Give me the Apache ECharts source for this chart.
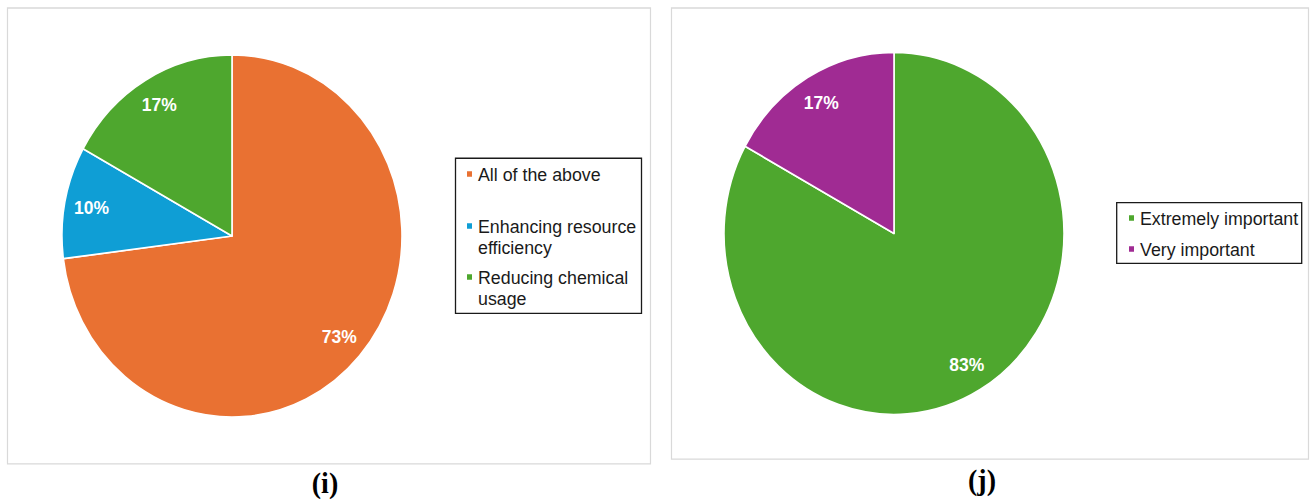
<!DOCTYPE html>
<html>
<head>
<meta charset="utf-8">
<script src="https://cdn.jsdelivr.net/npm/echarts@6/dist/echarts.min.js"></script>
<style>
  html, body { margin: 0; padding: 0; background: #fff; overflow: hidden; }
  #wrap { width: 1310px; height: 500px; overflow: hidden; }
  #chart { width: 1310px; height: 469.5px; transform: scaleY(1.065); transform-origin: 0 0; }
</style>
</head>
<body>
<div id="wrap"><div id="chart"></div></div>
<script>
// ---- data ----
const leftCategories = ['All of the above', 'Enhancing resource efficiency', 'Reducing chemical usage'];
const leftValues = [73, 10, 17];
const leftColors = ['#E97132', '#0F9ED5', '#4EA72E'];
const leftLegendLabels = ['All of the above', '\nEnhancing resource\nefficiency', '\nReducing chemical\nusage'];

const rightCategories = ['Extremely important', 'Very important'];
const rightValues = [83, 17];
const rightColors = ['#4EA72E', '#A02B93'];
const rightLegendLabels = ['Extremely important', 'Very important'];

const captions = ['(i)', '(j)'];

// ---- build ----
const chart = echarts.init(document.getElementById('chart'), null, { renderer: 'svg' });
const FONT = '"Liberation Sans", Arial, sans-serif';

function pieSeries(cats, vals, colors, center) {
  const data = cats.map((c, i) => ({ name: c, value: vals[i], itemStyle: { color: colors[i] } }));
  return [
    {
      type: 'pie', center: center, radius: 170, startAngle: 90, clockwise: true,
      data: data, label: { show: false }, labelLine: { show: false },
      itemStyle: { borderColor: '#ffffff', borderWidth: 1.6 },
      emphasis: { disabled: true }, animation: false
    },
    {
      type: 'pie', center: center, radius: [110, 170], startAngle: 90, clockwise: true,
      silent: true,
      data: cats.map((c, i) => ({ name: c, value: vals[i] })),
      itemStyle: { color: 'rgba(0,0,0,0)', borderWidth: 0 },
      label: {
        show: true, position: 'inside', formatter: '{c}%',
        color: '#ffffff', fontWeight: 'bold', fontSize: 17.5, fontFamily: FONT,
        textBorderWidth: 0
      },
      labelLine: { show: false },
      emphasis: { disabled: true }, animation: false
    }
  ];
}

function legendItem(name, label, left, top) {
  return {
    data: [name], left: left, top: top, padding: 0, orient: 'vertical',
    icon: 'rect', itemWidth: 7, itemHeight: 7, selectedMode: false,
    formatter: () => label,
    textStyle: { fontSize: 17.8, fontFamily: FONT, color: '#1a1a1a', lineHeight: 20 }
  };
}

const leftLegendTops = [153.4, 182.2, 230.1];
const rightLegendTops = [194.7, 223.8];

const legends = [];
leftCategories.forEach((c, i) => legends.push(legendItem(c, leftLegendLabels[i], 465, leftLegendTops[i])));
rightCategories.forEach((c, i) => legends.push(legendItem(c, rightLegendLabels[i], 1127, rightLegendTops[i])));

const option = {
  backgroundColor: '#ffffff',
  animation: false,
  legend: legends,
  series: [].concat(
    pieSeries(leftCategories, leftValues, leftColors, [232, 221.6]),
    pieSeries(rightCategories, rightValues, rightColors, [894, 219.2])
  ),
  graphic: [
    { type: 'rect', shape: { x: 7.5, y: 7.5, width: 643, height: 428 }, style: { fill: 'none', stroke: '#d9d9d9', lineWidth: 1.2 }, silent: true },
    { type: 'rect', shape: { x: 671.5, y: 7.5, width: 637, height: 423.5 }, style: { fill: 'none', stroke: '#d9d9d9', lineWidth: 1.2 }, silent: true },
    { type: 'rect', shape: { x: 455.5, y: 148.6, width: 186, height: 145.6 }, style: { fill: 'none', stroke: '#1a1a1a', lineWidth: 1.3 }, silent: true, z: 10 },
    { type: 'rect', shape: { x: 1116.7, y: 190.3, width: 185, height: 57 }, style: { fill: 'none', stroke: '#1a1a1a', lineWidth: 1.3 }, silent: true, z: 10 },
    { type: 'text', x: 325, y: 453, style: { text: captions[0], fontSize: 28, fontWeight: 'bold', fontFamily: '"Liberation Serif", "Times New Roman", serif', fill: '#000', align: 'center', verticalAlign: 'middle' }, silent: true },
    { type: 'text', x: 982, y: 450.5, style: { text: captions[1], fontSize: 28, fontWeight: 'bold', fontFamily: '"Liberation Serif", "Times New Roman", serif', fill: '#000', align: 'center', verticalAlign: 'middle' }, silent: true }
  ]
};
chart.setOption(option);
</script>
</body>
</html>
